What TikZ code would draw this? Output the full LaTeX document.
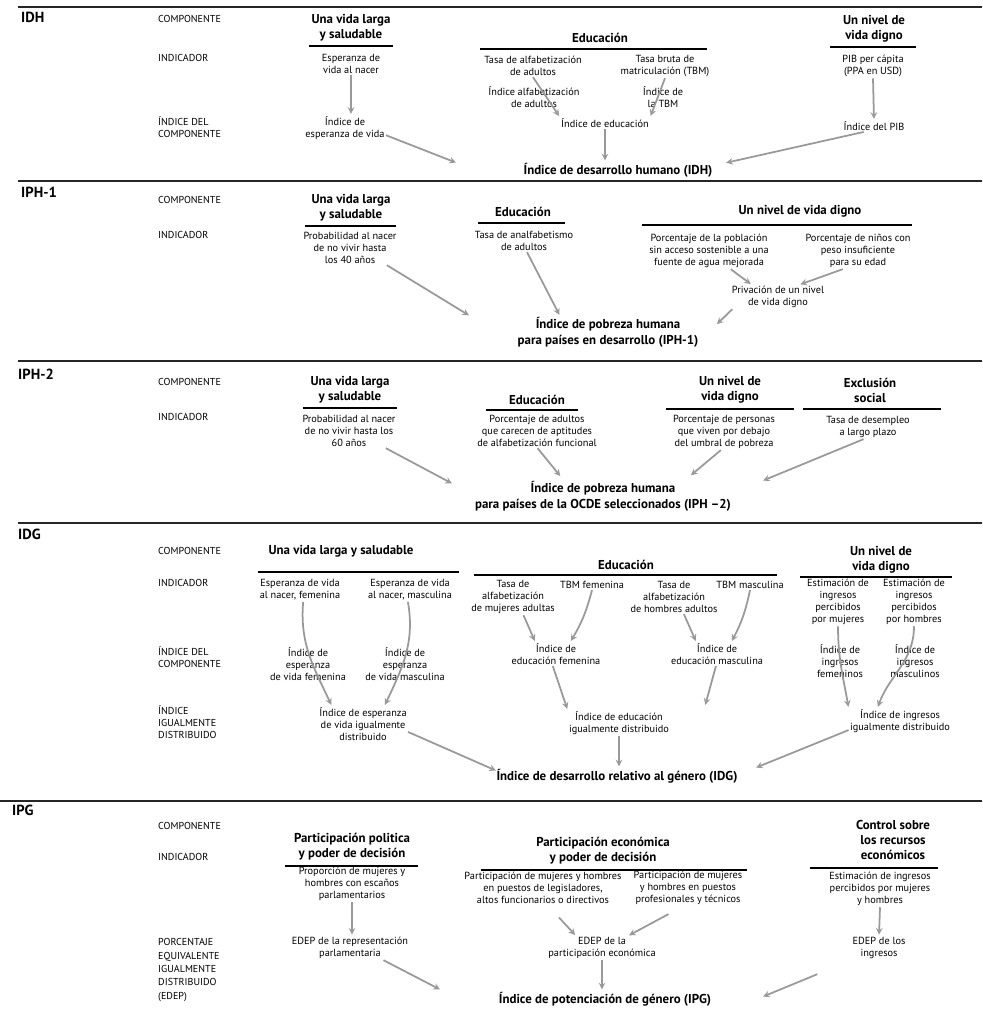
\documentclass[tikz,border=0pt]{standalone}
\usepackage{fontspec}
\setmainfont{PT Sans}
\usepackage{tikz}
\usetikzlibrary{positioning,arrows}

\begin{document}
\begin{tikzpicture}[
    x=0.03cm, y=-0.03cm,
    seclab/.style={anchor=west, inner sep=0pt, font=\bfseries\fontsize{12.5}{14}\selectfont},
    rowlab/.style={anchor=west, align=left, inner sep=0pt, font=\fontsize{8.6}{10.2}\selectfont},
    comp/.style={align=center, inner sep=1pt, font=\bfseries\fontsize{11}{12.8}\selectfont},
    ind/.style={align=center, inner sep=1pt, font=\fontsize{8.8}{10.3}\selectfont},
    res/.style={align=center, inner sep=1pt, font=\bfseries\fontsize{11}{13.6}\selectfont},
    bar/.style={draw=black, line width=0.9pt},
    sep/.style={draw=black!85, line width=1.4pt},
    arr/.style={->, >=stealth, draw=black!40, line width=1.5pt, shorten >=1pt}
    ]
        \useasboundingbox (0,0) rectangle (982,1019);

        %Rules
        \draw[sep] (18,7) -- (982,7);
        \draw[sep] (18,181) -- (982,181);
        \draw[sep] (18,361) -- (982,361);
        \draw[sep] (18,523) -- (982,523);
        \draw[sep] (0,801) -- (982,801);

        %IDH
        \node[seclab]   (idhlab)   at (21,17)   {IDH};
        \node[rowlab]   (idhrc)    at (158,19)  {COMPONENTE};
        \node[rowlab]   (idhri)    at (158,58)  {INDICADOR};
        \node[rowlab]   (idhrx)    at (158,127) {ÍNDICE DEL\\COMPONENTE};
        \node[comp]     (idhvida)  at (351,28)  {Una vida larga\\y saludable};
        \draw[bar] (309,46) -- (393,46);
        \node[ind]      (idhesp)   at (351,64)  {Esperanza de\\vida al nacer};
        \node[ind]      (idhiesp)  at (345,128) {Índice de\\esperanza de vida};
        \node[comp]     (idhedu)   at (600,38)  {Educación};
        \draw[bar] (480,49) -- (707,49);
        \node[ind]      (idhtasa)  at (533,66)  {Tasa de alfabetización\\de adultos};
        \node[ind]      (idhtbm)   at (665,66)  {Tasa bruta de\\matriculación (TBM)};
        \node[ind]      (idhialf)  at (534,97)  {Índice alfabetización\\de adultos};
        \node[ind]      (idhitbm)  at (663,97)  {Índice de\\la TBM};
        \node[ind]      (idhiedu)  at (605,123) {Índice de educación};
        \node[comp]     (idhnivel) at (874,29)  {Un nivel de\\vida digno};
        \draw[bar] (830,47) -- (916,47);
        \node[ind]      (idhpib)   at (873,66)  {PIB per cápita\\(PPA en USD)};
        \node[ind]      (idhipib)  at (874,126) {Índice del PIB};
        \node[res]      (idhres)   at (618,170) {Índice de desarrollo humano (IDH)};
        \coordinate (idhend1) at (457,163);
        \coordinate (idhend2) at (725,163);

        \draw[arr] (idhesp.south) -- (idhiesp.north -| idhesp.south);
        \draw[arr] (idhiesp.-10) -- (idhend1);
        \draw[arr] (idhtasa.south) -- (idhiedu.north west);
        \draw[arr] (idhtbm.south) -- (idhiedu.north east);
        \draw[arr] (idhiedu.south) -- (idhres.north -| idhiedu.south);
        \draw[arr] (idhpib.south) -- (idhipib.north);
        \draw[arr] (idhipib.-150) -- (idhend2);

        %IPH-1
        \node[seclab]   (iph1lab)   at (21,192)  {IPH-1};
        \node[rowlab]   (iph1rc)    at (158,200) {COMPONENTE};
        \node[rowlab]   (iph1ri)    at (158,235) {INDICADOR};
        \node[comp]     (iph1vida)  at (351,208) {Una vida larga\\y saludable};
        \draw[bar] (305,226) -- (396,226);
        \node[ind]      (iph1prob)  at (350,248) {Probabilidad al nacer\\de no vivir hasta\\los 40 años};
        \node[comp]     (iph1edu)   at (523,212) {Educación};
        \draw[bar] (478,223) -- (565,223);
        \node[ind]      (iph1tasa)  at (524,241) {Tasa de analfabetismo\\de adultos};
        \node[comp]     (iph1nivel) at (800,211) {Un nivel de vida digno};
        \draw[bar] (642,225) -- (912,225);
        \node[ind]      (iph1agua)  at (709,251) {Porcentaje de la población\\sin acceso sostenible a una\\fuente de agua mejorada};
        \node[ind]      (iph1peso)  at (858,251) {Porcentaje de niños con\\peso insuficiente\\para su edad};
        \node[ind]      (iph1priv)  at (778,297) {Privación de un nivel\\de vida digno};
        \node[res]      (iph1res)   at (608,332) {Índice de pobreza humana\\para países en desarrollo (IPH-1)};
        \coordinate (iph1end1) at (470,316);
        \coordinate (iph1end2) at (560,316);
        \coordinate (iph1end3) at (716,325);

        \draw[arr] (iph1prob.-25) -- (iph1end1);
        \draw[arr] (iph1tasa.-75) -- (iph1end2);
        \draw[arr] (iph1agua.-40) -- (iph1priv.155);
        \draw[arr] (iph1peso.-130) -- (iph1priv.30);
        \draw[arr] (iph1priv.-165) -- (iph1end3);

        %IPH-2
        \node[seclab]   (iph2lab)   at (18,374)  {IPH-2};
        \node[rowlab]   (iph2rc)    at (158,382) {COMPONENTE};
        \node[rowlab]   (iph2ri)    at (158,417) {INDICADOR};
        \node[comp]     (iph2vida)  at (350,390) {Una vida larga\\y saludable};
        \draw[bar] (303,408) -- (397,408);
        \node[ind]      (iph2prob)  at (349,431) {Probabilidad al nacer\\de no vivir hasta los\\60 años};
        \node[comp]     (iph2edu)   at (537,400) {Educación};
        \draw[bar] (486,410) -- (578,410);
        \node[ind]      (iph2adul)  at (537,431) {Porcentaje de adultos\\que carecen de aptitudes\\de alfabetización funcional};
        \node[comp]     (iph2nivel) at (730,390) {Un nivel de\\vida digno};
        \draw[bar] (666,409) -- (794,409);
        \node[ind]      (iph2pers)  at (724,432) {Porcentaje de personas\\que viven por debajo\\del umbral de pobreza};
        \node[comp]     (iph2excl)  at (870,390) {Exclusión\\social};
        \draw[bar] (803,409) -- (941,409);
        \node[ind]      (iph2desem) at (868,427) {Tasa de desempleo\\a largo plazo};
        \node[res]      (iph2res)   at (603,496) {Índice de pobreza humana\\para países de la OCDE seleccionados (IPH –2)};
        \coordinate (iph2end1) at (453,484);
        \coordinate (iph2end2) at (561,477);
        \coordinate (iph2end3) at (690,476);
        \coordinate (iph2end4) at (762,481);

        \draw[arr] (iph2prob.-25) -- (iph2end1);
        \draw[arr] (iph2adul.-88) -- (iph2end2);
        \draw[arr] (iph2pers.-100) -- (iph2end3);
        \draw[arr] (iph2desem.-110) -- (iph2end4);

        %IDG
        \node[seclab]   (idglab)    at (18,534)  {IDG};
        \node[rowlab]   (idgrc)     at (158,551) {COMPONENTE};
        \node[rowlab]   (idgri)     at (158,583) {INDICADOR};
        \node[rowlab]   (idgrx)     at (158,657) {ÍNDICE DEL\\COMPONENTE};
        \node[rowlab]   (idgrd)     at (158,722) {ÍNDICE\\IGUALMENTE\\DISTRIBUIDO};
        \node[comp]     (idgvida)   at (341,551) {Una vida larga y saludable};
        \draw[bar] (258,572) -- (459,572);
        \node[ind]      (idgespf)   at (300,590) {Esperanza de vida\\al nacer, femenina};
        \node[ind]      (idgespm)   at (410,590) {Esperanza de vida\\al nacer, masculina};
        \node[ind]      (idgiespf)  at (308,664) {Índice de\\esperanza\\de vida femenina};
        \node[ind]      (idgiespm)  at (405,664) {Índice de\\esperanza\\de vida masculina};
        \node[ind]      (idgiesp)   at (363,724) {Índice de esperanza\\de vida igualmente\\distribuido};
        \node[comp]     (idgedu)    at (626,565) {Educación};
        \draw[bar] (474,575) -- (777,575);
        \node[ind]      (idgtm)     at (513,597) {Tasa de\\alfabetización\\de mujeres adultas};
        \node[ind]      (idgtbmf)   at (592,585) {TBM femenina};
        \node[ind]      (idgth)     at (674,597) {Tasa de\\alfabetización\\de hombres adultos};
        \node[ind]      (idgtbmm)   at (750,585) {TBM masculina};
        \node[ind]      (idgief)    at (556,654) {Índice de\\educación femenina};
        \node[ind]      (idgiem)    at (717,654) {Índice de\\educación masculina};
        \node[ind]      (idgiedu)   at (619,723) {Índice de educación\\igualmente distribuido};
        \node[comp]     (idgnivel)  at (881,560) {Un nivel de\\vida digno};
        \draw[bar] (800,577) -- (952,577);
        \node[ind]      (idgingm)   at (838,602) {Estimación de\\ingresos\\percibidos\\por mujeres};
        \node[ind]      (idgingh)   at (914,602) {Estimación de\\ingresos\\percibidos\\por hombres};
        \node[ind]      (idgiingf)  at (840,661) {Índice de\\ingresos\\femeninos};
        \node[ind]      (idgiingm)  at (915,661) {Índice de\\ingresos\\masculinos};
        \node[ind]      (idgiing)   at (900,721) {Índice de ingresos\\igualmente distribuido};
        \node[res]      (idgres)    at (617,776) {Índice de desarrollo relativo al género (IDG)};
        \coordinate (idgend1) at (497,771);
        \coordinate (idgend2) at (705,706);
        \coordinate (idgend3) at (755,768);

        \draw[arr] (idgespf.-75) to[out=-95, in=115] (idgiesp.150);
        \draw[arr] (idgespm.-100) to[out=-80, in=65] (idgiesp.40);
        \draw[arr] (idgtm.-60) -- (idgief.150);
        \draw[arr] (idgtbmf.south) to[bend left=8] (idgief.40);
        \draw[arr] (idgth.-60) -- (idgiem.150);
        \draw[arr] (idgtbmm.south) to[bend left=8] (idgiem.40);
        \draw[arr] (idgief.-105) -- (idgiedu.north west);
        \draw[arr] (idgiem.-95) -- (idgend2);
        \draw[arr] (idgiedu.south) -- (idgres.north -| idgiedu.south);
        \draw[arr] (idgiesp.-10) -- (idgend1);
        \draw[arr] (idgingm.south) to[out=-90, in=100] (idgiing.north west);
        \draw[arr] (idgingh.south) to[out=-90, in=70] (idgiing.150);
        \draw[arr] (idgiing.-170) -- (idgend3);

        %IPG
        \node[seclab]   (ipglab)    at (12,810)  {IPG};
        \node[rowlab]   (ipgrc)     at (158,826) {COMPONENTE};
        \node[rowlab]   (ipgri)     at (158,857) {INDICADOR};
        \node[rowlab, font=\fontsize{8.6}{11.5}\selectfont]
                        (ipgrx)     at (158,970) {PORCENTAJE\\EQUIVALENTE\\IGUALMENTE\\DISTRIBUIDO\\(EDEP)};
        \node[comp]     (ipgpol)    at (352,847) {Participación politica\\y poder de decisión};
        \draw[bar] (285,866) -- (418,866);
        \node[ind]      (ipgprop)   at (352,884) {Proporción de mujeres y\\hombres con escaños\\parlamentarios};
        \node[ind]      (ipgerep)   at (350,948) {EDEP de la representación\\parlamentaria};
        \node[comp]     (ipgeco)    at (603,851) {Participación económica\\y poder de decisión};
        \draw[bar] (481,870) -- (747,870);
        \node[ind]      (ipgleg)    at (543,888) {Participación de mujeres y hombres\\en puestos de legisladores,\\altos funcionarios o directivos};
        \node[ind]      (ipgprof)   at (688,888) {Participación de mujeres\\y hombres en puestos\\profesionales y técnicos};
        \node[ind]      (ipgeec)    at (602,948) {EDEP de la\\participación económica};
        \node[comp]     (ipgctrl)   at (893,840) {Control sobre\\los recursos\\económicos};
        \draw[bar] (810,868) -- (938,868);
        \node[ind]      (ipgest)    at (880,889) {Estimación de ingresos\\percibidos por mujeres\\y hombres};
        \node[ind]      (ipgein)    at (879,948) {EDEP de los\\ingresos};
        \node[res]      (ipgres)    at (605,999) {Índice de potenciación de género (IPG)};
        \coordinate (ipgend1) at (441,990);
        \coordinate (ipgend2) at (762,997);

        \draw[arr] (ipgprop.south) -- (ipgerep.north -| ipgprop.south);
        \draw[arr] (ipgerep.-20) -- (ipgend1);
        \draw[arr, shorten <=0.5cm] (ipgleg.-75) -- (ipgeec.155);
        \draw[arr, shorten <=0.5cm] (ipgprof.-105) -- (ipgeec.25);
        \draw[arr] (ipgeec.south) -- (ipgres.north -| ipgeec.south);
        \draw[arr] (ipgest.south) -- (ipgein.north);
        \draw[arr, shorten <=1.1cm] (ipgein.south west) -- (ipgend2);
    \end{tikzpicture}
\end{document}
